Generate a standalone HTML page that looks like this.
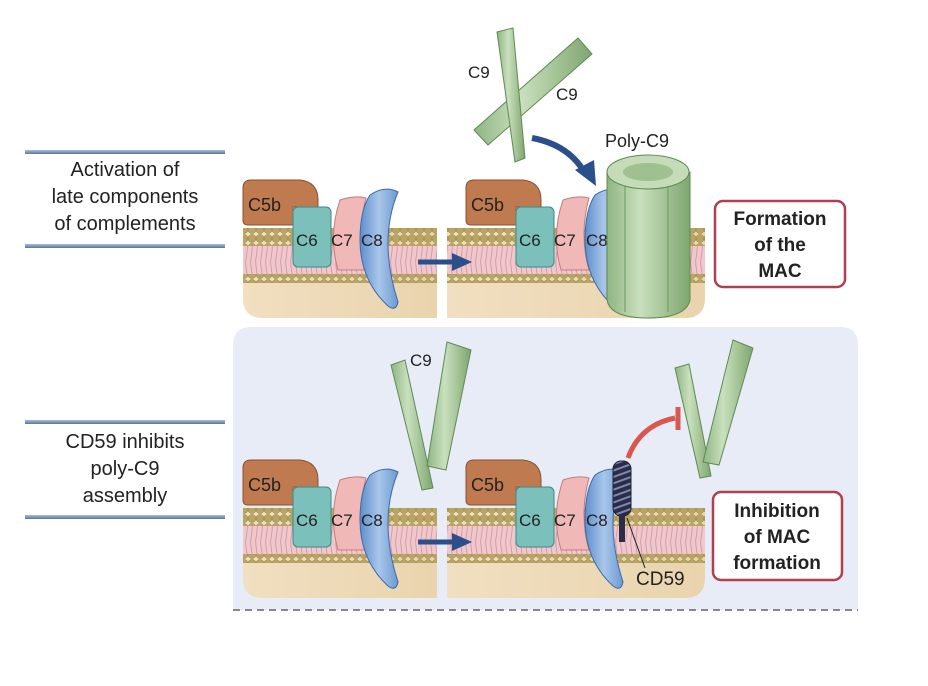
<!DOCTYPE html>
<html><head><meta charset="utf-8"><style>
html,body{margin:0;padding:0;background:#fff}
svg{display:block}
text{font-family:"Liberation Sans",sans-serif;fill:#222}
</style></head><body>
<svg width="928" height="686" viewBox="0 0 928 686" xmlns="http://www.w3.org/2000/svg">
<defs>
<pattern id="beads" width="8" height="9" patternUnits="userSpaceOnUse">
<circle cx="4" cy="4.5" r="4" fill="#b9a562" stroke="#8d7a3e" stroke-width="0.5"/>
</pattern>
<pattern id="lip" width="5" height="30" patternUnits="userSpaceOnUse">
<rect width="5" height="30" fill="#f0c8cc"/>
<path d="M1.5 0 Q3 7 1.5 15 Q0 22 1.5 30" stroke="#c98a9c" stroke-width="0.7" fill="none"/>
</pattern>
<linearGradient id="tan" x1="0" y1="0" x2="1" y2="0"><stop offset="0" stop-color="#f1dfc1"/><stop offset="1" stop-color="#e9d4ad"/></linearGradient>
<linearGradient id="grn" x1="0" y1="0" x2="1" y2="0"><stop offset="0" stop-color="#8fb582"/><stop offset="0.4" stop-color="#c9e0bd"/><stop offset="1" stop-color="#7fa66f"/></linearGradient>
<linearGradient id="blu" x1="0" y1="0" x2="1" y2="0"><stop offset="0" stop-color="#5d8fcb"/><stop offset="0.5" stop-color="#a9c6ea"/><stop offset="1" stop-color="#6b9ad2"/></linearGradient>
<linearGradient id="bar" x1="0" y1="0" x2="0" y2="1"><stop offset="0" stop-color="#a9bcd6"/><stop offset="1" stop-color="#5a76a0"/></linearGradient>
<pattern id="stripe" width="18" height="6" patternUnits="userSpaceOnUse" patternTransform="rotate(-20)">
<rect width="18" height="6" fill="#2a2d45"/><rect y="3" width="18" height="2" fill="#8088b0"/>
</pattern>
<g id="prot">
<path d="M243 188 Q243 180 251 180 L300 180 Q318 182 318 200 L318 207 L293 207 L293 225 L248 225 Q243 225 243 220 Z" fill="#c07a50" stroke="#8a5030" stroke-width="1"/>
<text x="248" y="211" font-size="18">C5b</text>
<rect x="293" y="207" width="38" height="60" rx="5" fill="#7cc0bc" stroke="#3d8a86" stroke-width="1"/>
<text x="296" y="246" font-size="17">C6</text>
<path d="M340 200 Q355 195 366 198 Q356 235 366 270 L338 270 Q328 235 340 200 Z" fill="#f1b8b8" stroke="#c27c80" stroke-width="1"/>
<text x="331" y="246" font-size="17">C7</text>
</g>
<g id="c8">
<path d="M370 195 Q385 185 398 192 Q378 240 398 302 Q396 312 388 306 Q360 280 360 240 Q360 210 370 195 Z" fill="url(#blu)" stroke="#3c6aa6" stroke-width="1"/>
<text x="361" y="246" font-size="17">C8</text>
</g>
<g id="memL">
<path d="M243 228 L437 228 L437 318 L263 318 Q243 318 243 298 Z" fill="url(#tan)"/>
<rect x="243" y="228" width="194" height="18" fill="url(#beads)"/>
<rect x="243" y="246" width="194" height="28" fill="url(#lip)"/>
<rect x="243" y="274" width="194" height="9" fill="url(#beads)"/>
</g>
<g id="memR">
<path d="M447 228 L705 228 L705 298 Q705 318 685 318 L447 318 Z" fill="url(#tan)"/>
<rect x="447" y="228" width="258" height="18" fill="url(#beads)"/>
<rect x="447" y="246" width="258" height="28" fill="url(#lip)"/>
<rect x="447" y="274" width="258" height="9" fill="url(#beads)"/>
</g>
</defs>

<path d="M233 345 Q233 327 251 327 L840 327 Q858 327 858 345 L858 610 L233 610 Z" fill="#e8ecf6"/>
<line x1="233" y1="610" x2="858" y2="610" stroke="#888" stroke-width="2" stroke-dasharray="7,5"/>

<rect x="25" y="150" width="200" height="4" fill="url(#bar)"/>
<rect x="25" y="244" width="200" height="4" fill="url(#bar)"/>
<text x="125" y="176" font-size="20" text-anchor="middle">Activation of</text>
<text x="125" y="203" font-size="20" text-anchor="middle">late components</text>
<text x="125" y="230" font-size="20" text-anchor="middle">of complements</text>
<rect x="25" y="420" width="200" height="4" fill="url(#bar)"/>
<rect x="25" y="515" width="200" height="4" fill="url(#bar)"/>
<text x="125" y="448" font-size="20" text-anchor="middle">CD59 inhibits</text>
<text x="125" y="475" font-size="20" text-anchor="middle">poly-C9</text>
<text x="125" y="502" font-size="20" text-anchor="middle">assembly</text>

<use href="#memL"/>
<use href="#prot"/><use href="#c8"/>
<use href="#memR"/>
<use href="#prot" transform="translate(223,0)"/>
<use href="#c8" transform="translate(225,0)"/>
<path d="M418 262 L455 262" stroke="#2a4f8a" stroke-width="5"/>
<polygon points="452,253 472,262 452,271" fill="#2a4f8a"/>
<path d="M607 172 L607 300 Q610 318 648 318 Q686 318 690 300 L690 172 Z" fill="url(#grn)" stroke="#5f8a55" stroke-width="1"/>
<line x1="625" y1="185" x2="625" y2="312" stroke="#6d9862" stroke-width="1"/>
<line x1="668" y1="185" x2="668" y2="312" stroke="#6d9862" stroke-width="1"/>
<ellipse cx="648" cy="172" rx="41" ry="17" fill="#c5dcb8" stroke="#5f8a55" stroke-width="1"/>
<ellipse cx="648" cy="172" rx="25" ry="9" fill="#9fc08f"/>
<text x="605" y="147" font-size="18">Poly-C9</text>
<path d="M474 130 L578 38 L592 54 L488 145 Z" fill="url(#grn)" stroke="#5f8a55" stroke-width="1"/>
<path d="M497 32 L513 28 L525 158 L515 162 Z" fill="url(#grn)" stroke="#5f8a55" stroke-width="1"/>
<text x="468" y="78" font-size="17">C9</text>
<text x="556" y="100" font-size="17">C9</text>
<path d="M532 138 Q570 145 586 175" stroke="#2a4f8a" stroke-width="6" fill="none"/>
<polygon points="575,170 596,186 594,160" fill="#2a4f8a"/>
<rect x="715" y="201" width="130" height="86" rx="8" fill="#fff" stroke="#b04050" stroke-width="2.5"/>
<text x="780" y="225" font-size="19" font-weight="bold" text-anchor="middle">Formation</text>
<text x="780" y="251" font-size="19" font-weight="bold" text-anchor="middle">of the</text>
<text x="780" y="277" font-size="19" font-weight="bold" text-anchor="middle">MAC</text>

<g transform="translate(0,280)">
<use href="#memL"/>
<use href="#prot"/><use href="#c8"/>
<use href="#memR"/>
<use href="#prot" transform="translate(223,0)"/>
<use href="#c8" transform="translate(225,0)"/>
<path d="M418 262 L455 262" stroke="#2a4f8a" stroke-width="5"/>
<polygon points="452,253 472,262 452,271" fill="#2a4f8a"/>
</g>
<path d="M391 365 L405 360 L433 488 L422 490 Z" fill="url(#grn)" stroke="#5f8a55" stroke-width="1"/>
<path d="M447 342 L471 350 L446 470 L427 466 Z" fill="url(#grn)" stroke="#5f8a55" stroke-width="1"/>
<text x="410" y="366" font-size="17">C9</text>
<path d="M675 368 L689 364 L711 476 L700 478 Z" fill="url(#grn)" stroke="#5f8a55" stroke-width="1"/>
<path d="M733 340 L753 348 L719 465 L703 462 Z" fill="url(#grn)" stroke="#5f8a55" stroke-width="1"/>
<path d="M628 458 Q640 425 675 418" stroke="#d8574f" stroke-width="5" fill="none"/>
<line x1="678" y1="407" x2="678" y2="430" stroke="#d8574f" stroke-width="5"/>
<rect x="613" y="461" width="18" height="55" rx="8" fill="url(#stripe)" stroke="#1f2235" stroke-width="1"/>
<rect x="619" y="514" width="6" height="28" fill="#2a2d45"/>
<line x1="627" y1="518" x2="645" y2="568" stroke="#222" stroke-width="1"/>
<text x="636" y="585" font-size="19">CD59</text>
<rect x="713" y="492" width="129" height="88" rx="8" fill="#fff" stroke="#b04050" stroke-width="2.5"/>
<text x="777" y="517" font-size="19" font-weight="bold" text-anchor="middle">Inhibition</text>
<text x="777" y="543" font-size="19" font-weight="bold" text-anchor="middle">of MAC</text>
<text x="777" y="569" font-size="19" font-weight="bold" text-anchor="middle">formation</text>
</svg>
</body></html>
